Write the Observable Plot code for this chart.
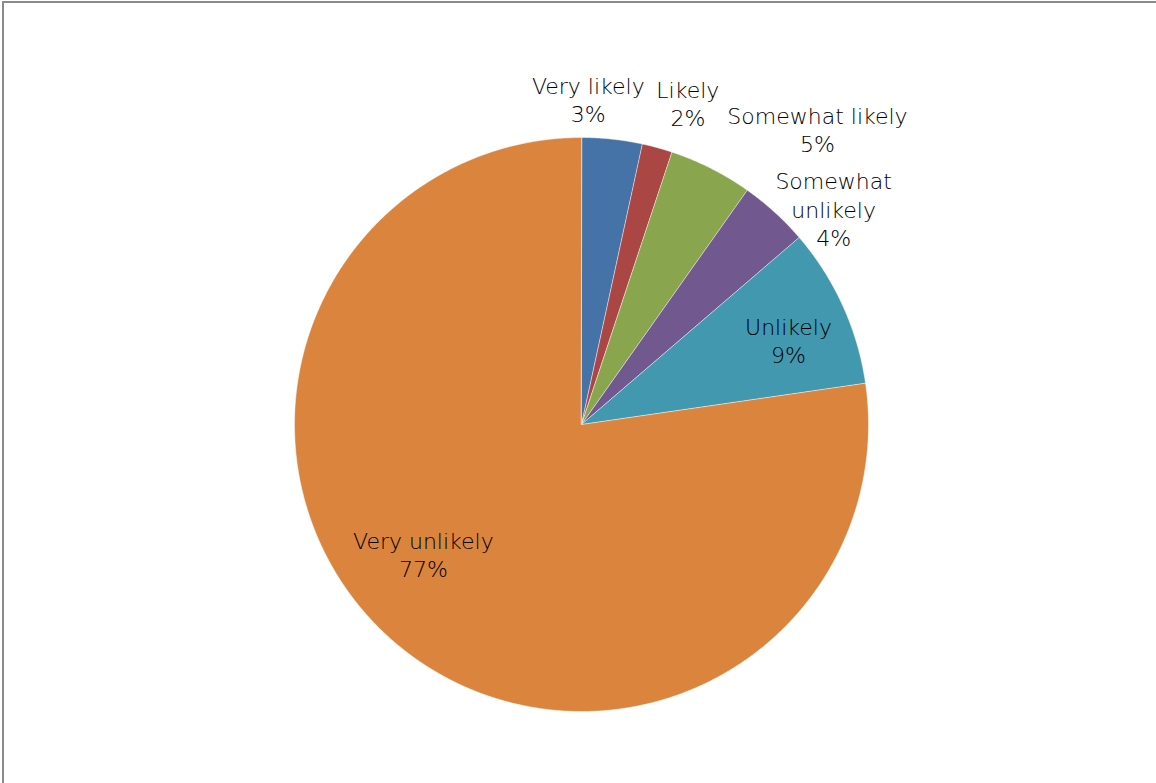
<!DOCTYPE html>
<html>
<head>
<meta charset="utf-8">
<script src="https://cdn.jsdelivr.net/npm/d3@7"></script>
<script src="https://cdn.jsdelivr.net/npm/@observablehq/plot@0.6"></script>
<style>
  html, body { margin: 0; padding: 0; background: #fff; }
  #wrap { position: relative; width: 1156px; height: 783px; overflow: hidden; }
  #frame { position: absolute; left: 2px; top: 1px; width: 1200px; height: 900px;
           border-left: 2px solid #8a8a8a; border-top: 2px solid #8a8a8a; pointer-events: none; }
</style>
</head>
<body>
<div id="wrap"><div id="chart"></div><div id="frame"></div></div>
<script>
// Data
const categories = ["Very likely", "Likely", "Somewhat likely", "Somewhat unlikely", "Unlikely", "Very unlikely"];
const shares = [3.4, 1.7, 4.7, 3.9, 9.0, 77.3];
const labelLines = [["Very likely"], ["Likely"], ["Somewhat likely"], ["Somewhat", "unlikely"], ["Unlikely"], ["Very unlikely"]];
const colors = ["#4572A7", "#AA4643", "#89A54E", "#71588F", "#4198AF", "#DB843D"];

// Label placement (polar: degrees clockwise from top, radius as fraction of pie radius)
const labelAngle = [1.2, 18.3, 38.6, 49.4, 67.8, 230.7];
const labelRadius = [1.135, 1.18, 1.318, 1.157, 0.779, 0.712];

const arcs = d3.pie().sort(null).value(d => d)(shares);

const slicePts = [];
arcs.forEach((a, i) => {
  slicePts.push({cat: categories[i], x: 0, y: 0});
  const n = Math.max(2, Math.ceil((a.endAngle - a.startAngle) / 0.004));
  for (let k = 0; k <= n; k++) {
    const t = a.startAngle + (a.endAngle - a.startAngle) * k / n;
    slicePts.push({cat: categories[i], x: Math.sin(t), y: Math.cos(t)});
  }
});

const labels = categories.map((c, i) => {
  const t = labelAngle[i] * Math.PI / 180;
  return {
    cat: c,
    x: labelRadius[i] * Math.sin(t),
    y: labelRadius[i] * Math.cos(t),
    text: labelLines[i].join("\n") + "\n" + Math.round(shares[i]) + "%"
  };
});

const chart = Plot.plot({
  width: 1156,
  height: 783,
  marginLeft: 294,
  marginRight: 288,
  marginTop: 137,
  marginBottom: 72,
  x: {domain: [-1, 1], axis: null},
  y: {domain: [-1, 1], axis: null},
  color: {domain: categories, range: colors},
  style: {background: "#fff", overflow: "visible"},
  marks: [
    Plot.line(slicePts, {x: "x", y: "y", z: "cat", fill: "cat", stroke: "#fff", strokeWidth: 0.8, strokeOpacity: 0.6, curve: "linear-closed"}),
    Plot.text(labels, {x: "x", y: "y", text: "text", fontSize: 22, lineHeight: 1.3, fill: "#000",
      fontFamily: "'DejaVu Sans', sans-serif", fontWeight: 200, textAnchor: "middle"})
  ]
});
document.getElementById("chart").appendChild(chart);
</script>
</body>
</html>
